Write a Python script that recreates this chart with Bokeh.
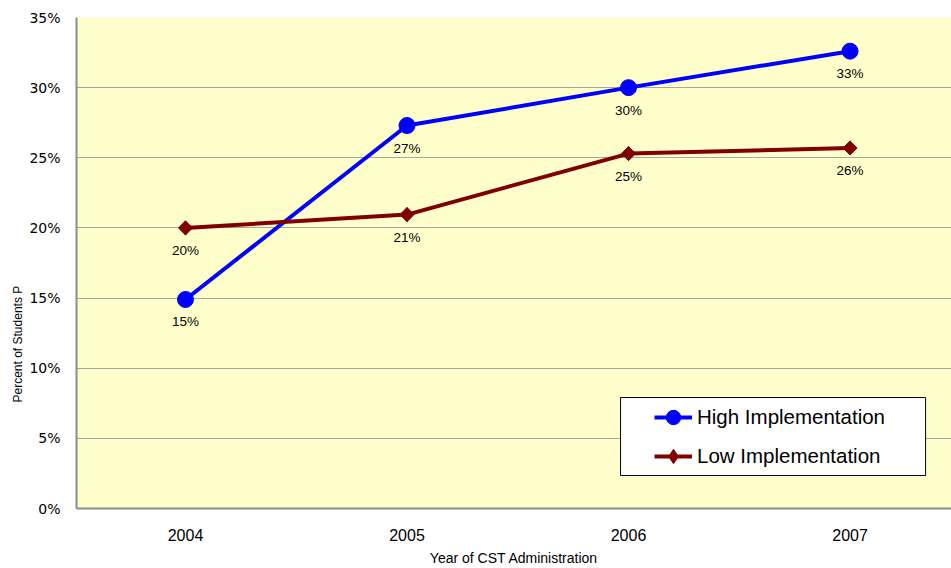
import numpy as np
from bokeh.plotting import figure
from bokeh.models import (Range1d, FixedTicker, PrintfTickFormatter, Title,
                          BoxAnnotation, Legend, LegendItem, ColumnDataSource)
from bokeh.core.properties import value
from bokeh.embed import file_html
from bokeh.resources import INLINE

# ---- data ----
years = ["2004", "2005", "2006", "2007"]
high_impl = [14.9, 27.3, 30.0, 32.6]
low_impl = [20.0, 20.95, 25.3, 25.7]
y_ticks = [0, 5, 10, 15, 20, 25, 30, 35]
x_title = "Year of CST Administration"
y_title = "Percent of Students P"

xs = list(range(len(years)))

p = figure(width=951, height=568, output_backend="svg", toolbar_location=None,
           x_range=Range1d(-0.492, 3.458), y_range=Range1d(0, 35),
           min_border_left=76, min_border_right=0, min_border_top=17,
           min_border_bottom=60)
p.background_fill_color = "#FFFFCC"
p.border_fill_color = "white"
p.outline_line_color = None

# axes
for ax in (p.xaxis[0], p.yaxis[0]):
    ax.axis_line_color = "#8c8c8c"
    ax.axis_line_width = 2
    ax.major_tick_line_color = None
    ax.minor_tick_line_color = None

p.xaxis.ticker = FixedTicker(ticks=xs)
p.xaxis.major_label_overrides = {i: y for i, y in enumerate(years)}
p.xaxis.major_tick_out = 0
p.xaxis.major_tick_in = 0
p.xaxis.major_label_text_font = "Liberation Sans"
p.xaxis.major_label_text_font_size = "16px"
p.xaxis.major_label_text_color = "black"
p.xaxis.major_label_standoff = 20
p.xaxis.axis_label = x_title
p.xaxis.axis_label_text_font = "Liberation Sans"
p.xaxis.axis_label_text_font_size = "14px"
p.xaxis.axis_label_text_font_style = "normal"
p.xaxis.axis_label_text_color = "black"
p.xaxis.axis_label_standoff = 6

p.yaxis.ticker = FixedTicker(ticks=y_ticks)
p.yaxis.formatter = PrintfTickFormatter(format="%d%%")
p.yaxis.major_label_text_font = "DejaVu Sans"
p.yaxis.major_label_text_font_size = "14px"
p.yaxis.major_label_text_color = "black"
p.yaxis.major_label_standoff = 10

p.xgrid.grid_line_color = None
p.ygrid.grid_line_color = "#a6a6a6"
p.ygrid.grid_line_width = 1
p.ygrid.ticker = FixedTicker(ticks=y_ticks)

# y title on the left, anchored from the bottom of the frame
p.add_layout(Title(text=y_title, align="left", offset=106, vertical_align="top",
                   text_font="Liberation Sans", text_font_size="12px",
                   text_font_style="normal", text_color="black", standoff=0), "left")

# legend box
p.add_layout(BoxAnnotation(left=1.964, right=3.341, bottom=2.35, top=7.91,
                           fill_color="white", fill_alpha=1.0,
                           line_color="black", line_alpha=1.0, line_width=1,
                           level="annotation"))

src_h = ColumnDataSource(dict(x=xs, y=high_impl, t=[f"{round(v)}%" for v in high_impl]))
src_l = ColumnDataSource(dict(x=xs, y=low_impl, t=[f"{round(v)}%" for v in low_impl]))

lh = p.line("x", "y", source=src_h, line_color="#0000FF", line_width=4)
mh = p.scatter("x", "y", source=src_h, marker="circle", size=16,
               fill_color="#0000FF", line_color="#0000FF")
ll = p.line("x", "y", source=src_l, line_color="#800000", line_width=4)
# narrow diamond hidden under the rotated squares; used for the legend glyph
ml_leg = p.scatter("x", "y", source=src_l, marker="diamond", size=14,
                   fill_color="#800000", line_color="#800000")
ml = p.scatter("x", "y", source=src_l, marker="square", angle=np.pi / 4, size=10,
               fill_color="#800000", line_color="#800000")

for s in (src_h, src_l):
    p.text("x", "y", text="t", source=s, text_align="center", text_baseline="top",
           y_offset=15, text_font=value("Liberation Sans"), text_font_size="13.5px",
           text_color="black")

legend = Legend(items=[LegendItem(label="High Implementation", renderers=[lh, mh]),
                       LegendItem(label="Low Implementation", renderers=[ll, ml_leg])],
                location=(578, 34), orientation="vertical",
                background_fill_alpha=0, border_line_color=None,
                label_text_font="Liberation Sans", label_text_font_size="20.5px",
                label_text_color="black", glyph_width=38, glyph_height=36,
                label_height=22, spacing=3, padding=0, margin=0,
                label_standoff=5)
p.add_layout(legend)

open("out.html", "w").write(file_html(p, INLINE))
